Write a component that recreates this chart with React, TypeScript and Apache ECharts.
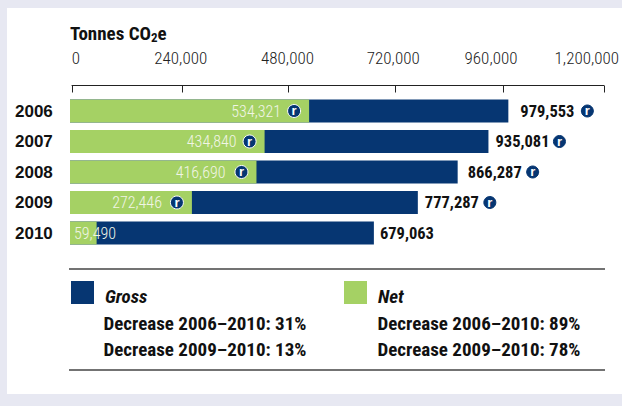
import React, { useEffect, useRef } from "react";
import * as echarts from "echarts";

const years = ["2006", "2007", "2008", "2009", "2010"];
const gross = [979553, 935081, 866287, 777287, 679063];
const net = [534321, 434840, 416690, 272446, 59490];
const tickLabels = ["0", "240,000", "480,000", "720,000", "960,000", "1,200,000"];
const grossNotes = ["Decrease 2006–2010: 31%", "Decrease 2009–2010: 13%"];
const netNotes = ["Decrease 2006–2010: 89%", "Decrease 2009–2010: 78%"];

// Rows that carry the round assurance badge.
const netBadgeRows = [0, 1, 2, 3];
const grossBadgeRows = [0, 1, 2, 3];

const NAVY = "#063672";
const GREEN = "#a5d164";
const INK = "#111111";
const NARROW = "'Roboto Condensed', 'Liberation Sans', sans-serif";
const WIDE = "'Liberation Sans', sans-serif";

const AXIS_MAX = 1200000;
const PLOT_LEFT = 70;
const PLOT_WIDTH = 537;
const UNITS_PER_PX = AXIS_MAX / PLOT_WIDTH;

// The scale line has its own hand-set tick spacing, so it sits in a separate grid.
const SCALE_LEFT = 72;
const SCALE_WIDTH = 533;
const tickPx = [72, 183, 289, 396, 504, 605];
const labelPx = [76, 181, 288, 394, 492, 588];
const toScale = (px: number) => ((px - SCALE_LEFT) / SCALE_WIDTH) * AXIS_MAX;
const tickValues = tickPx.map(toScale);
const labelValues = labelPx.map(toScale);

// Label and badge offsets from the end of each bar, in pixels.
const netLabelInset = [28, 28, 31, 30];
const grossLabelGap = [12, 7, 10, 7, 6];
const netBadgeOffset = -15;
const grossBadgeOffset = [79, 71, 75, 72];

const badge = (
  name: string,
  data: (number | string)[][],
  border: string,
  size: number,
) => ({
  type: "scatter",
  name,
  data,
  symbol: "circle",
  symbolSize: size,
  z: 6,
  silent: true,
  itemStyle: { color: NAVY, borderColor: border, borderWidth: 1, opacity: 1 },
  label: {
    show: true,
    position: "inside",
    formatter: "r",
    color: "#ffffff",
    fontFamily: WIDE,
    fontWeight: "bold",
    fontSize: 13,
    offset: [0, -0.5],
  },
});

const noteText = (x: number, y: number, text: string) => ({
  type: "text",
  x,
  y,
  style: {
    text,
    fill: INK,
    font: `bold 19px ${NARROW}`,
    textVerticalAlign: "middle",
  },
});

const rule = (y: number) => ({
  type: "line",
  shape: { x1: 69, y1: y, x2: 605, y2: y },
  style: { stroke: "#444444", lineWidth: 1.5 },
});

const legendEntry = (name: string, left: number) => ({
  data: [name],
  left,
  top: 281,
  padding: 0,
  itemWidth: 23,
  itemHeight: 23,
  icon: "rect",
  selectedMode: false,
  formatter: "{entry|{name}}",
  textStyle: {
    rich: {
      entry: {
        fontFamily: NARROW,
        fontStyle: "italic",
        fontWeight: "bold",
        fontSize: 19,
        color: INK,
        padding: [7, 0, 0, 6],
      },
    },
  },
});

export default function App() {
  const ref = useRef<HTMLDivElement>(null);

  useEffect(() => {
    document.body.style.margin = "0";
    const chart = echarts.init(ref.current!, undefined, { renderer: "svg" });
    chart.setOption({
      animation: false,
      backgroundColor: "#e7e8f2",
      title: {
        text: "Tonnes CO{sub|2}e",
        left: 70,
        top: 22,
        padding: 0,
        textStyle: {
          fontFamily: NARROW,
          fontWeight: "bold",
          fontSize: 19,
          color: INK,
          rich: {
            sub: {
              fontFamily: NARROW,
              fontWeight: "bold",
              fontSize: 13,
              color: INK,
              verticalAlign: "bottom",
              padding: [9, 0, 0, 0],
            },
          },
        },
      },
      legend: [legendEntry("Gross", 71), legendEntry("Net", 344)],
      grid: [
        { left: PLOT_LEFT, top: 95.75, width: PLOT_WIDTH, height: 152.5 },
        { left: SCALE_LEFT, top: 75.5, width: SCALE_WIDTH, height: 10 },
      ],
      xAxis: [
        {
          type: "value",
          gridIndex: 0,
          min: 0,
          max: AXIS_MAX,
          show: false,
        },
        {
          type: "value",
          gridIndex: 1,
          position: "top",
          min: 0,
          max: AXIS_MAX,
          splitLine: { show: false },
          axisLine: { show: true, lineStyle: { color: "#222222", width: 1 } },
          axisTick: {
            show: true,
            inside: true,
            length: 7,
            customValues: tickValues,
            lineStyle: { color: "#222222", width: 1 },
          },
          axisLabel: {
            show: true,
            customValues: labelValues,
            hideOverlap: false,
            showMinLabel: true,
            showMaxLabel: true,
            margin: 9,
            color: "#222222",
            fontFamily: NARROW,
            fontWeight: 300,
            fontSize: 17,
            formatter: (v: number) => {
              const i = labelValues.findIndex((l) => Math.abs(l - v) < 1);
              return tickLabels[i] ?? "";
            },
          },
        },
      ],
      yAxis: [
        {
          type: "category",
          gridIndex: 0,
          inverse: true,
          data: years,
          axisLine: { show: false },
          axisTick: { show: false },
          axisLabel: {
            align: "left",
            margin: 55,
            color: INK,
            fontFamily: WIDE,
            fontWeight: "bold",
            fontSize: 17,
          },
        },
        { type: "value", gridIndex: 1, show: false },
      ],
      series: [
        {
          type: "bar",
          name: "Gross",
          barWidth: 23,
          barGap: "-100%",
          itemStyle: { color: NAVY },
          data: gross.map((value, i) => ({
            value,
            label: {
              show: true,
              position: "right",
              distance: grossLabelGap[i],
              formatter: value.toLocaleString("en-US"),
              color: INK,
              fontFamily: NARROW,
              fontWeight: "bold",
              fontSize: 16.5,
            },
          })),
        },
        {
          type: "bar",
          name: "Net",
          barWidth: 23,
          barGap: "-100%",
          itemStyle: { color: GREEN },
          z: 3,
          data: net.map((value, i) => ({
            value,
            label: {
              show: true,
              position: i < netLabelInset.length ? "insideRight" : "insideLeft",
              distance: i < netLabelInset.length ? netLabelInset[i] : 4,
              formatter: value.toLocaleString("en-US"),
              color: "#f1f5e6",
              fontFamily: NARROW,
              fontWeight: 300,
              fontSize: 16,
            },
          })),
        },
        badge(
          "Net assured",
          netBadgeRows.map((i) => [net[i] + netBadgeOffset * UNITS_PER_PX, years[i]]),
          "#ffffff",
          13,
        ),
        badge(
          "Gross assured",
          grossBadgeRows.map((i) => [gross[i] + grossBadgeOffset[i] * UNITS_PER_PX, years[i]]),
          NAVY,
          12,
        ),
      ],
      graphic: [
        {
          type: "rect",
          z: -10,
          shape: { x: 7, y: 8, width: 615, height: 386 },
          style: { fill: "#ffffff" },
        },
        rule(269),
        rule(370),
        noteText(103.5, 323, grossNotes[0]),
        noteText(103.5, 349, grossNotes[1]),
        noteText(377.5, 323, netNotes[0]),
        noteText(377.5, 349, netNotes[1]),
      ],
    });
    return () => chart.dispose();
  }, []);

  return <div ref={ref} style={{ width: 622, height: 406 }} />;
}
